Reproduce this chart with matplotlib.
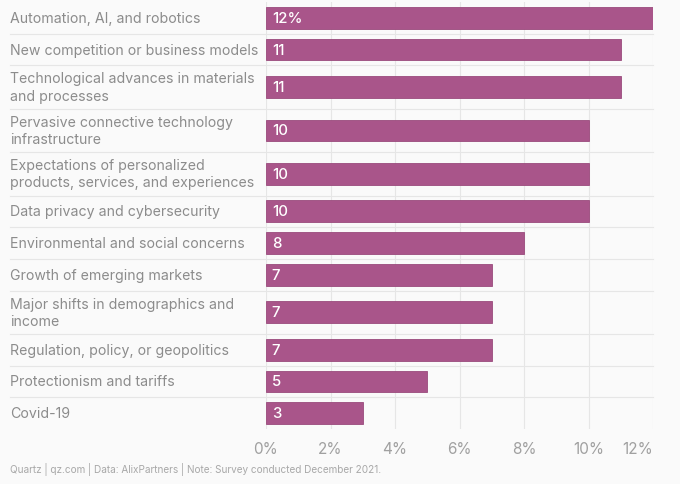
import matplotlib
matplotlib.use("Agg")
import matplotlib.pyplot as plt
import matplotlib.transforms as mtransforms

categories = [
    "Automation, AI, and robotics",
    "New competition or business models",
    "Technological advances in materials\nand processes",
    "Pervasive connective technology\ninfrastructure",
    "Expectations of personalized\nproducts, services, and experiences",
    "Data privacy and cybersecurity",
    "Environmental and social concerns",
    "Growth of emerging markets",
    "Major shifts in demographics and\nincome",
    "Regulation, policy, or geopolitics",
    "Protectionism and tariffs",
    "Covid-19",
]
values = [12, 11, 11, 10, 10, 10, 8, 7, 7, 7, 5, 3]
value_labels = ["12%", "11", "11", "10", "10", "10", "8", "7", "7", "7", "5", "3"]
xticks = [0, 2, 4, 6, 8, 10, 12]
xtick_labels = ["0%", "2%", "4%", "6%", "8%", "10%", "12%"]
footer = "Quartz | qz.com | Data: AlixPartners | Note: Survey conducted December 2021."

FONT = "Inter"
BG = "#fafafa"
BAR = "#a9558a"
LABEL_C = "#8c8c8c"
GRID_C = "#e6e6e6"

W, H = 680, 485
fig = plt.figure(figsize=(W / 100, H / 100), dpi=100, facecolor=BG)
ax = fig.add_axes([266 / W, 1 - 430 / H, (653 - 266) / W, (430 - 3) / H])
ax.set_facecolor(BG)

single, double = 1.0, 1.37
heights = [double if "\n" in c else single for c in categories]
tops = []
t = 0.0
for h in heights:
    tops.append(t)
    t += h
total = t
centers = [tp + h / 2 for tp, h in zip(tops, heights)]

ax.set_xlim(0, 12)
ax.set_ylim(total, 0)

for x in xticks:
    ax.axvline(x, color=GRID_C, lw=0.8, zorder=0)

x0 = (10 - 266) / (653 - 266)
for tp in tops[1:]:
    ax.axhline(tp, xmin=x0, xmax=1, color=GRID_C, lw=0.8, clip_on=False, zorder=0)

bar_h = 0.69
ax.barh(centers, values, height=bar_h, color=BAR, edgecolor="#9a4a7c", linewidth=0.6, zorder=2)

for c, v, lab in zip(centers, values, value_labels):
    ax.text(0.18, c, lab, color="white", fontsize=10.8, family=FONT, va="center", ha="left",
            zorder=3, fontweight="medium")

trans = mtransforms.blended_transform_factory(fig.transFigure, ax.transData)
for c, lab in zip(centers, categories):
    ax.text(10 / W, c, lab, transform=trans, color=LABEL_C, fontsize=10.2, family=FONT,
            va="center", ha="left", linespacing=1.3)

ax.set_yticks([])
ax.set_xticks(xticks)
ax.set_xticklabels(xtick_labels, family=FONT, fontsize=11, color="#a0a0a0")
ax.tick_params(axis="x", length=0, pad=9)
tl = ax.get_xticklabels()
tl[-1].set_ha("right")
for s in ax.spines.values():
    s.set_visible(False)

fig.text(10 / W, 1 - 470 / H, footer, family=FONT, fontsize=7.2, color="#a8a8a8", va="center", ha="left")

fig.savefig("out.png", dpi=100, facecolor=BG)
